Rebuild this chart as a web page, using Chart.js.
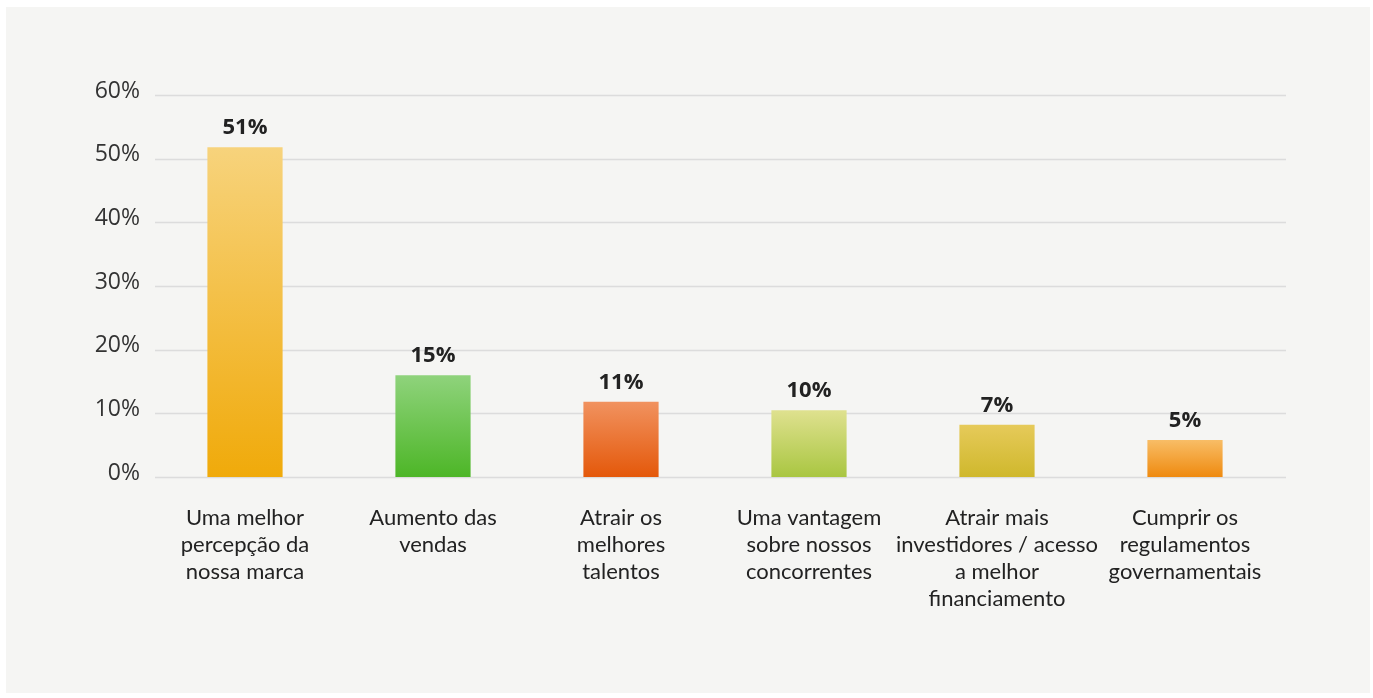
<!DOCTYPE html>
<html lang="pt-BR">
<head>
<meta charset="utf-8">
<title>Benefícios</title>
<script src="https://cdn.jsdelivr.net/npm/chart.js@4.4.1/dist/chart.umd.min.js"></script>
<style>
html, body { margin:0; padding:0; background:#ffffff; }
canvas { display:block; }
</style>
</head>
<body>
<canvas id="grafico" width="1373" height="698"></canvas>
<script>

// categorias (eixo x)
const categorias = [
['Uma melhor','percepção da','nossa marca'],
['Aumento das','vendas'],
['Atrair os','melhores','talentos'],
['Uma vantagem','sobre nossos','concorrentes'],
['Atrair mais','investidores / acesso','a melhor','financiamento'],
['Cumprir os','regulamentos','governamentais']
];

// altura das barras (%)
const valores = [51.8, 16, 11.8, 10.5, 8.2, 5.8];

// rótulos impressos sobre as barras
const rotulos = ['51%','15%','11%','10%','7%','5%'];

// ticks do eixo y
const ticksY = [0, 10, 20, 30, 40, 50, 60];

// cores do degradê (topo, base)
const coresTopo = ['#f7d37c','#8fd37c','#f1925f','#dfe18f','#e6ca5a','#f8bd66'];
const coresBase = ['#f0aa0a','#4db627','#e4580a','#a9c641','#cfb82c','#ef8a0f'];

function degrade(context){

const chart = context.chart;
const i = context.dataIndex;

if(!chart.chartArea || !chart.scales.y){
return coresBase[i];
}

const y = chart.scales.y;
const topo = y.getPixelForValue(valores[i]);
const base = y.getPixelForValue(0);

const g = chart.ctx.createLinearGradient(0, topo, 0, base);
g.addColorStop(0, coresTopo[i]);
g.addColorStop(1, coresBase[i]);

return g;

}

const fundo = {
id:'fundo',
beforeDraw(chart){
const ctx = chart.ctx;
ctx.save();
ctx.fillStyle = '#ffffff';
ctx.fillRect(0, 0, chart.width, chart.height);
ctx.fillStyle = '#f5f5f3';
ctx.fillRect(6, 7, chart.width - 9, chart.height - 12);
ctx.restore();
}
};

// linhas de grade um pouco mais longas que a area das barras
const grade = {
id:'grade',
beforeDatasetsDraw(chart){
const ctx = chart.ctx;
const area = chart.chartArea;
const y = chart.scales.y;
ctx.save();
ctx.strokeStyle = '#dcdcdc';
ctx.lineWidth = 1.5;
ticksY.forEach(function(v){
const py = Math.round(y.getPixelForValue(v)) + 0.5;
ctx.beginPath();
ctx.moveTo(area.left + 4, py);
ctx.lineTo(area.right + 7, py);
ctx.stroke();
});
ctx.restore();
}
};

const textoBarras = {
id:'textoBarras',
afterDatasetsDraw(chart){
const ctx = chart.ctx;
const meta = chart.getDatasetMeta(0);
ctx.save();
ctx.font = 'bold 22px "Open Sans"';
ctx.fillStyle = '#222222';
ctx.textAlign = 'center';
ctx.textBaseline = 'middle';
meta.data.forEach(function(barra, i){
ctx.fillText(rotulos[i], barra.x, barra.y - 19);
});
ctx.restore();
}
};

const ctx = document.getElementById('grafico');

new Chart(ctx,{

type:'bar',

data:{
labels:categorias,
datasets:[{
data:valores,
backgroundColor:degrade,
borderWidth:0,
barPercentage:0.4,
categoryPercentage:1
}]
},

options:{

responsive:false,
animation:false,

layout:{
padding:{ left:64, right:94, top:95, bottom:0 }
},

plugins:{
legend:{ display:false },
tooltip:{ enabled:false }
},

scales:{

x:{
grid:{ display:false, drawTicks:false },
border:{ display:false },
ticks:{
color:'#222222',
padding:27,
maxRotation:0,
autoSkip:false,
font:{ family:'Lato', size:22, lineHeight:'27px' }
},
afterFit(scale){
scale.height = 698 - 477;
}
},

y:{
min:0,
max:60,
afterBuildTicks(scale){
scale.ticks = ticksY.map(function(v){ return { value:v }; });
},
grid:{ display:false, drawTicks:false },
border:{ display:false },
ticks:{
color:'#333333',
padding:11,
labelOffset:-4,
font:{ family:'Open Sans', size:23 },
callback:function(v){ return v + '%'; }
},
afterFit(scale){
scale.width = 87;
}
}

}

},

plugins:[fundo, grade, textoBarras]

});

</script>
</body>
</html>
